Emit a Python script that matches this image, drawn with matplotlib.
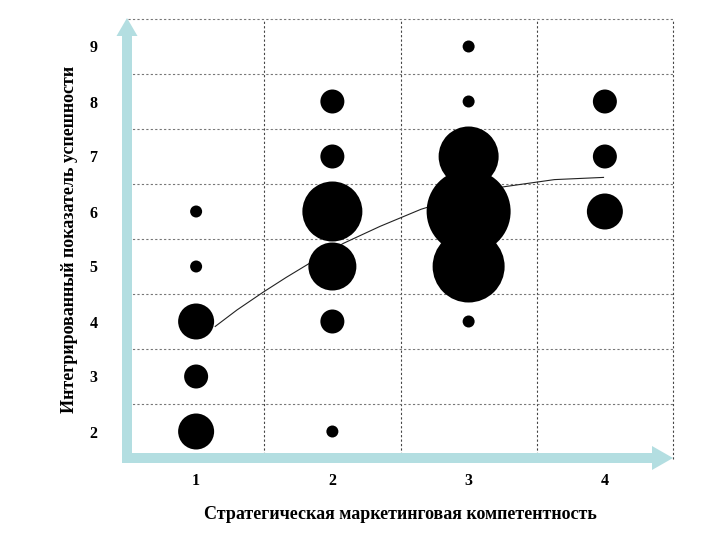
import numpy as np
import matplotlib
matplotlib.use("Agg")
import matplotlib.pyplot as plt
from matplotlib.patches import FancyArrow
from matplotlib.transforms import IdentityTransform

# данные: компетентность (x), показатель успешности (y), число наблюдений
comp = [1, 1, 1, 1, 1,
        2, 2, 2, 2, 2, 2,
        3, 3, 3, 3, 3, 3,
        4, 4, 4]
score = [2, 3, 4, 5, 6,
         2, 4, 5, 6, 7, 8,
         4, 5, 6, 7, 8, 9,
         6, 7, 8]
counts = [3, 2, 3, 1, 1,
          1, 2, 4, 5, 2, 2,
          1, 6, 7, 5, 1, 1,
          3, 2, 2]

# линия тренда
trend_x = [1.14, 1.30, 1.49, 1.66, 1.82, 2.08, 2.35, 2.65, 2.95, 3.26, 3.63, 3.99]
trend_y = [3.91, 4.21, 4.53, 4.80, 5.04, 5.42, 5.73, 6.04, 6.27, 6.45, 6.58, 6.62]

x_ticks = [1, 2, 3, 4]
y_ticks = [2, 3, 4, 5, 6, 7, 8, 9]

plt.rcParams['font.family'] = ['Liberation Serif', 'DejaVu Serif']

fig = plt.figure(figsize=(7.2, 5.4), dpi=100)
ax = fig.add_axes([128 / 720, 81 / 540, 545 / 720, 440 / 540])

ax.set_xlim(0.5, 4.5)
ax.set_ylim(1.5, 9.5)

# радиус пузыря ~ 6 px на одно наблюдение
sizes = [(12 * n * 0.72) ** 2 for n in counts]
ax.plot(trend_x, trend_y, color='#222222', lw=0.8, zorder=2)
ax.scatter(comp, score, s=sizes, color='black', edgecolors='none', zorder=3)

ax.set_xticks(x_ticks)
ax.set_yticks(y_ticks)
ax.set_xticks([1.5, 2.5, 3.5, 4.5], minor=True)
ax.set_yticks([2.5, 3.5, 4.5, 5.5, 6.5, 7.5, 8.5, 9.5], minor=True)
ax.xaxis.grid(True, which='minor', color='#444444', linestyle=(0, (2, 2)),
              linewidth=0.8, clip_on=False)
ax.yaxis.grid(True, which='minor', color='#777777', linestyle=(0, (2, 2)),
              linewidth=0.8, clip_on=False)
ax.grid(which='major', visible=False)
ax.tick_params(which='both', length=0)
ax.tick_params(axis='x', pad=10, labelsize=11.5)
ax.tick_params(axis='y', pad=22, labelsize=11.5)
for lab in ax.get_xticklabels() + ax.get_yticklabels():
    lab.set_fontweight('bold')
for sp in ax.spines.values():
    sp.set_visible(False)

ax.set_xlabel('Стратегическая маркетинговая компетентность',
              fontsize=13, fontweight='bold', labelpad=12)
ax.set_ylabel('Интегрированный показатель успешности',
              fontsize=13, fontweight='bold', labelpad=8)

# голубые стрелки осей
arrow_col = '#b3dee1'
fig.add_artist(FancyArrow(127, 77, 0, 445, width=10, head_width=21,
                          head_length=18, length_includes_head=True,
                          color=arrow_col, lw=0, transform=IdentityTransform()))
fig.add_artist(FancyArrow(122, 82, 551, 0, width=10, head_width=24,
                          head_length=21, length_includes_head=True,
                          color=arrow_col, lw=0, transform=IdentityTransform()))

fig.savefig('out.png', dpi=100)
